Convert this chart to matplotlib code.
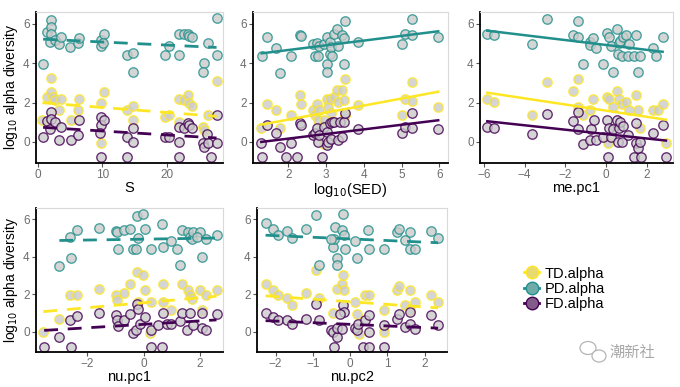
import numpy as np
import matplotlib
matplotlib.use("Agg")
import matplotlib.pyplot as plt
from matplotlib.lines import Line2D
from matplotlib.patches import Ellipse

plt.rcParams['font.family'] = ['Liberation Sans', 'DejaVu Sans']

groups = ["TD.alpha", "PD.alpha", "FD.alpha"]
colors = {"TD.alpha": "#FDE725", "PD.alpha": "#21908C", "FD.alpha": "#440154"}

# ---------------- Panel 1: S ----------------
s_pd_x = [0.8,1.4,2.0,2.0,2.1,1.9,2.6,3.2,3.6,4.9,6.2,6.4,9.8,9.8,10.2,10.1,13.8,14.8,14.8,19.7,20.4,21.8,22.7,23.2,23.5,23.9,21.8,25.8,25.6,26.3,27.7,27.7]
s_pd_y = [3.97,5.56,6.17,5.86,5.5,5.08,5.17,4.95,5.32,4.81,5.0,5.3,5.2,4.88,5.47,5.0,4.42,4.5,3.54,4.42,4.88,5.47,5.47,5.47,5.39,5.35,4.42,4.0,3.54,5.0,6.3,4.42]
s_td_x = [0.7,1.4,2.0,2.0,2.4,2.7,3.6,3.2,5.1,6.3,6.2,10.2,9.8,9.8,13.8,14.8,14.8,19.7,20.4,21.8,21.8,22.7,23.2,23.5,23.9,25.6,25.8,26.3,27.7]
s_td_y = [1.12,2.3,3.24,2.56,2.27,2.14,2.19,1.63,1.12,2.19,1.63,2.56,1.97,-0.03,1.63,1.8,1.12,1.29,1.37,2.19,1.03,2.14,2.39,2.0,1.8,0.78,0.61,1.37,3.07]
s_fd_x = [0.8,1.4,2.0,2.0,1.9,2.7,3.6,3.2,5.1,6.2,6.4,9.8,9.8,10.2,9.7,9.8,13.8,13.8,14.8,14.8,19.7,20.4,21.8,21.8,21.8,22.7,23.2,23.5,23.9,25.6,25.8,26.2,26.4,26.8,27.7,27.7]
s_fd_y = [0.24,1.08,1.51,1.15,0.64,1.03,0.75,0.1,0.1,0.36,1.12,1.29,0.86,1.12,0.47,-0.75,0.24,-0.75,0.69,0.02,0.27,0.27,0.75,0.02,-0.75,0.69,0.95,0.86,0.69,-0.07,-0.27,0.39,-0.07,-0.75,1.37,-0.07]
s_fit = {"TD.alpha": (1.99, 1.30), "PD.alpha": (5.22, 4.80), "FD.alpha": (0.74, 0.20)}

# ---------------- Panel 2: log10(SED) ----------------
sed_pd_x = [1.29,1.43,1.66,1.78,2.06,2.31,2.34,2.64,2.71,2.75,2.78,2.82,2.95,3.02,3.03,3.03,3.09,3.1,3.13,3.15,3.22,3.28,3.32,3.41,3.48,3.48,3.5,3.85,5.0,5.09,5.27,5.28,5.97]
sed_pd_y = [4.39,5.31,4.77,3.51,4.39,5.45,5.36,4.97,4.39,5.01,4.39,4.89,4.97,5.31,3.97,3.55,5.06,4.47,4.81,4.39,5.48,5.73,4.89,5.43,5.28,3.97,6.15,5.06,4.97,5.48,6.24,5.43,5.31]
sed_td_x = [1.28,1.43,1.66,1.78,2.06,2.31,2.34,2.64,2.71,2.75,2.78,2.82,2.95,3.02,3.06,3.09,3.13,3.22,3.28,3.32,3.41,3.48,3.5,3.5,3.85,5.0,5.09,5.27,5.28,5.97,2.95]
sed_td_y = [0.69,1.95,1.61,0.69,1.36,2.37,1.92,1.61,1.36,1.95,1.11,1.61,1.11,2.2,1.78,2.17,1.45,2.29,2.62,2.03,2.62,2.15,3.18,1.36,1.87,1.36,2.2,3.04,2.07,1.78,-0.1]
sed_fd_x = [1.28,1.43,1.31,1.66,1.78,1.93,2.06,2.22,2.31,2.34,2.64,2.71,2.75,2.78,2.82,2.89,2.95,3.02,3.03,3.06,3.09,3.13,3.15,3.22,3.32,3.37,3.41,3.48,3.5,3.85,5.0,5.09,5.28,5.28,5.97]
sed_fd_y = [-0.03,0.86,-0.74,0.44,-0.24,-0.74,-0.07,-0.74,0.94,0.86,0.35,0.44,0.69,0.02,0.35,-0.74,0.74,0.52,-0.15,0.02,0.94,0.13,1.03,1.03,0.1,1.03,0.27,1.03,1.48,0.64,0.44,0.77,1.45,0.69,0.64]
sed_fit = {"TD.alpha": (0.88, 2.55), "PD.alpha": (4.50, 5.62), "FD.alpha": (0.00, 1.10)}

# ---------------- Panel 3: me.pc1 ----------------
me_pd_x = [-5.84,-5.51,-3.63,-2.91,-1.63,-1.38,-1.38,-1.14,-0.81,-0.81,-0.65,-0.48,-0.16,0.04,0.14,0.25,0.33,0.55,0.58,0.66,0.71,0.79,0.82,0.99,1.07,1.15,1.4,1.48,1.56,1.68,2.3,2.46,2.79]
me_pd_y = [5.48,5.43,4.97,6.24,5.43,6.15,5.31,3.97,5.06,4.92,5.28,4.77,3.97,5.53,5.31,4.89,3.55,5.73,4.47,5.01,5.14,4.39,5.31,5.43,4.39,4.97,4.39,5.43,3.55,4.39,4.77,4.39,5.31]
me_td_x = [-5.84,-5.51,-3.63,-2.91,-1.63,-1.38,-1.38,-1.14,-0.81,-0.65,0.04,0.14,0.33,0.55,0.66,0.79,0.99,1.15,1.48,1.56,1.68,2.3,2.54,2.79,2.95,0.09]
me_td_y = [2.17,2.03,1.36,3.04,2.59,3.18,1.78,1.36,1.61,2.17,2.29,2.17,1.78,2.59,2.17,1.95,2.03,1.61,2.37,1.61,0.69,1.61,1.61,1.95,-0.03,-0.07]
me_fd_x = [-5.84,-5.51,-3.63,-2.91,-1.63,-1.38,-1.38,-1.14,-0.81,-0.73,-0.57,-0.48,-0.16,0.04,0.1,0.14,0.25,0.33,0.55,0.58,0.66,0.71,0.79,0.82,1.07,1.4,1.48,1.48,1.56,1.68,1.73,2.3,2.79,2.95]
me_fd_y = [0.77,0.69,0.39,1.41,1.08,1.5,0.64,-0.12,0.1,0.64,1.11,0.1,0.24,1.11,-0.74,0.69,0.27,0.64,1.11,0.02,0.69,1.03,0.02,0.81,0.35,-0.74,0.94,-0.07,-0.32,0.02,-0.74,0.44,0.86,-0.74]
me_fit = {"TD.alpha": (2.50, 1.13), "PD.alpha": (5.65, 4.58), "FD.alpha": (1.05, 0.07)}

# ---------------- Panel 4: nu.pc1 ----------------
nu1_pd_x = [-2.99,-2.62,-2.56,-2.36,-1.59,-0.98,-0.96,-0.9,-0.69,-0.49,-0.39,-0.27,-0.25,-0.19,-0.01,0.05,0.28,0.64,0.7,0.97,1.17,1.29,1.38,1.59,1.64,1.73,1.76,2.0,2.06,1.88,2.21,2.59]
nu1_pd_y = [3.51,5.06,3.96,5.41,5.56,5.36,5.33,4.44,5.45,5.47,4.44,4.44,6.18,5.01,6.27,5.5,4.44,5.77,4.53,4.83,4.44,3.55,5.45,5.33,5.06,4.97,5.33,5.33,3.99,5.06,4.97,5.15]
nu1_td_x = [-3.56,-2.99,-2.62,-2.36,-1.59,-0.98,-0.96,-0.69,-0.49,-0.25,-0.19,-0.01,0.05,0.28,0.7,0.7,0.97,1.38,1.59,1.64,1.73,2.0,2.06,2.21,2.59,0.22]
nu1_td_y = [0.0,0.67,1.95,1.95,2.27,1.99,1.69,2.08,2.57,3.2,1.6,3.02,2.22,1.6,2.57,1.6,1.15,2.57,2.22,1.95,1.74,2.22,1.15,1.95,2.22,-0.04]
nu1_fd_x = [-3.53,-2.99,-2.62,-2.56,-2.36,-1.59,-0.98,-0.96,-0.9,-0.69,-0.49,-0.39,-0.27,-0.25,-0.19,-0.13,0.05,0.25,0.28,0.52,0.64,0.7,0.82,0.97,1.29,1.38,1.53,1.64,1.76,2.06,2.06,2.21,2.59]
nu1_fd_y = [-0.8,-0.27,0.62,-0.8,0.85,1.03,0.89,0.62,0.32,0.62,0.98,-0.04,0.09,1.51,1.24,0.44,0.8,-0.8,0.09,0.36,-0.8,1.03,0.44,0.44,0.57,1.03,0.09,1.03,0.36,1.03,0.21,0.09,0.98]
nu1_fit = {"TD.alpha": (1.08, 1.90), "PD.alpha": (4.87, 5.00), "FD.alpha": (0.08, 0.64)}

# ---------------- Panel 5: nu.pc2 ----------------
nu2_pd_x = [-2.27,-2.08,-1.93,-1.7,-1.57,-1.18,-0.91,-0.83,-0.45,-0.4,-0.42,-0.36,-0.36,-0.22,-0.18,-0.16,-0.15,0.13,0.18,0.49,0.51,0.9,1.26,1.3,1.48,1.61,1.61,1.73,2.18,2.36,-0.51]
nu2_pd_y = [5.82,5.5,5.15,5.36,5.01,5.47,6.21,3.55,4.53,5.59,4.97,3.96,3.55,5.45,6.3,5.15,4.44,4.83,3.96,5.45,4.44,4.44,5.33,5.5,4.88,5.33,4.44,4.44,5.36,5.01,4.97]
nu2_td_x = [-2.27,-2.08,-1.93,-1.7,-1.57,-1.18,-0.91,-0.83,-0.45,-0.36,-0.22,-0.18,-0.16,0.13,0.18,0.4,0.51,0.9,0.9,1.26,1.3,1.48,1.61,1.61,1.73,2.18,2.36,0.24]
nu2_td_y = [2.57,2.22,1.95,1.78,1.42,2.08,3.28,1.78,1.03,2.31,2.57,3.05,2.22,1.6,0.98,1.95,1.95,1.15,0.0,2.22,2.45,1.42,2.22,1.15,1.6,1.95,1.6,-0.09]
nu2_fd_x = [-2.27,-2.08,-1.93,-1.7,-1.57,-1.18,-0.91,-0.83,-0.51,-0.45,-0.42,-0.36,-0.36,-0.22,-0.18,-0.16,-0.27,0.13,0.18,0.22,0.34,0.4,0.51,0.51,0.51,0.9,0.92,1.26,1.3,1.48,1.61,1.61,1.73,2.18,2.36]
nu2_fd_y = [1.03,0.8,0.62,0.62,0.44,0.67,1.51,0.62,0.09,0.0,-0.8,-0.27,0.21,0.18,1.46,1.07,0.98,0.21,0.09,0.44,-0.8,0.62,0.0,-0.8,0.89,0.36,-0.8,0.71,0.98,0.27,1.07,0.44,0.14,0.92,0.36]
nu2_fit = {"TD.alpha": (1.92, 1.28), "PD.alpha": (5.15, 4.75), "FD.alpha": (0.60, 0.20)}

panels = [
    dict(label="S", pts={"TD.alpha": (s_td_x, s_td_y), "PD.alpha": (s_pd_x, s_pd_y), "FD.alpha": (s_fd_x, s_fd_y)},
         fit=s_fit, ls="dashed", xlim=(-0.3, 28.7), xticks=[0, 10, 20], ylab=True,
         rect=[36, 12, 223, 163]),
    dict(label="log$_{10}$(SED)", pts={"TD.alpha": (sed_td_x, sed_td_y), "PD.alpha": (sed_pd_x, sed_pd_y), "FD.alpha": (sed_fd_x, sed_fd_y)},
         fit=sed_fit, ls="solid", xlim=(1.06, 6.23), xticks=[2, 3, 4, 5, 6], ylab=False,
         rect=[253, 12, 448, 163]),
    dict(label="me.pc1", pts={"TD.alpha": (me_td_x, me_td_y), "PD.alpha": (me_pd_x, me_pd_y), "FD.alpha": (me_fd_x, me_fd_y)},
         fit=me_fit, ls="solid", xlim=(-6.2, 3.3), xticks=[-6, -4, -2, 0, 2], ylab=False,
         rect=[480, 12, 673, 163]),
    dict(label="nu.pc1", pts={"TD.alpha": (nu1_td_x, nu1_td_y), "PD.alpha": (nu1_pd_x, nu1_pd_y), "FD.alpha": (nu1_fd_x, nu1_fd_y)},
         fit=nu1_fit, ls="dashed", xlim=(-3.82, 2.82), xticks=[-2, 0, 2], ylab=True,
         rect=[36, 208, 223, 352]),
    dict(label="nu.pc2", pts={"TD.alpha": (nu2_td_x, nu2_td_y), "PD.alpha": (nu2_pd_x, nu2_pd_y), "FD.alpha": (nu2_fd_x, nu2_fd_y)},
         fit=nu2_fit, ls="dashed", xlim=(-2.5, 2.6), xticks=[-2, -1, 0, 1, 2], ylab=False,
         rect=[257, 208, 447, 352]),
]

W, H = 680, 387
fig = plt.figure(figsize=(W / 100, H / 100), dpi=100)
fig.patch.set_facecolor("white")

fill = "#cbcbcb"
for p in panels:
    l, t, r, b = p["rect"]
    ax = fig.add_axes([l / W, (H - b) / H, (r - l) / W, (b - t) / H])
    for g in ["TD.alpha", "PD.alpha", "FD.alpha"]:
        xs, ys = p["pts"][g]
        ax.scatter(xs, ys, s=46, facecolor=fill, edgecolor=colors[g], linewidth=1.0,
                   alpha=0.8, zorder=2)
    for g in ["TD.alpha", "PD.alpha", "FD.alpha"]:
        xs, _ = p["pts"][g]
        x0, x1 = min(xs), max(xs)
        y0, y1 = p["fit"][g]
        if p["ls"] == "dashed":
            ax.plot([x0, x1], [y0, y1], color=colors[g], lw=2.0, dashes=(5, 3.5), zorder=3)
        else:
            ax.plot([x0, x1], [y0, y1], color=colors[g], lw=1.8, zorder=3)
    ax.set_xlim(*p["xlim"])
    ax.set_ylim(-1.07, 6.6)
    ax.set_yticks([0, 2, 4, 6])
    ax.set_xticks(p["xticks"])
    ax.tick_params(axis="both", labelsize=8.5, colors="#555555", labelcolor="#6e6e6e",
                   length=3, width=0.8, pad=1.5)
    for side in ["left", "bottom"]:
        ax.spines[side].set_color("black")
        ax.spines[side].set_linewidth(1.3)
    for side in ["top", "right"]:
        ax.spines[side].set_color("#d9d9d9")
        ax.spines[side].set_linewidth(0.8)
    ax.set_xlabel(p["label"], fontsize=10.5, labelpad=0)
    if p["ylab"]:
        ax.set_ylabel("log$_{10}$ alpha diversity", fontsize=10, labelpad=2)

handles = []
for g in groups:
    c = matplotlib.colors.to_rgb(colors[g])
    face = tuple(0.55 * np.array(c) + 0.45 * np.array([0.8, 0.8, 0.8]))
    handles.append(Line2D([0], [0], color=colors[g], lw=2, marker="o", markersize=9,
                          markerfacecolor=face, markeredgecolor=colors[g]))
fig.legend(handles, groups, loc="center left", bbox_to_anchor=(517 / W, 1 - 289 / H),
           frameon=False, fontsize=10.5, handlelength=1.0, handletextpad=0.4,
           labelspacing=0.1, borderpad=0)

# watermark
fig.text(632 / W, 1 - 352 / H, "潮新社", fontsize=11, color="#a8a8a8",
         family=["Noto Sans CJK SC", "DejaVu Sans"], ha="center", va="center")
for (cx, cy, w, h) in [(588, 348, 16, 13), (599, 356, 14, 12)]:
    fig.add_artist(Ellipse((cx / W, 1 - cy / H), w / W, h / H, transform=fig.transFigure,
                           facecolor="white", edgecolor="#b5b5b5", lw=0.9))

fig.savefig("out.png", dpi=100, facecolor="white")
